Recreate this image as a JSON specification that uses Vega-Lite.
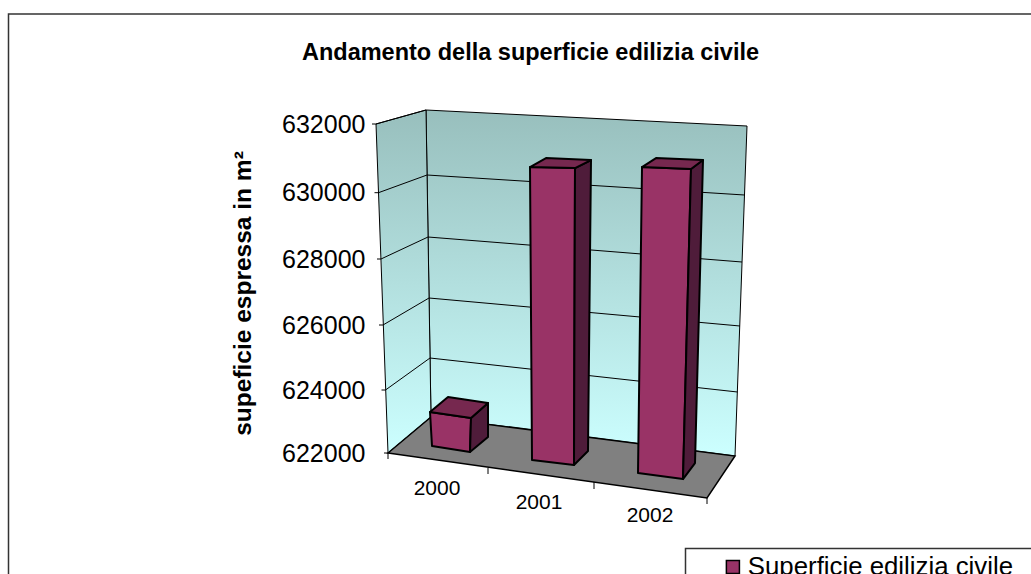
{
"$schema":"https://vega.github.io/schema/vega-lite/v6.json",
"width":1031,"height":574,"padding":0,"autosize":{"type":"none"},"background":"white",
"title":{"text":"Andamento della superficie edilizia civile","anchor":"middle","frame":"group","dx":15,"dy":76,"offset":0,"baseline":"middle","font":"Liberation Sans","fontSize":23.5,"fontWeight":"bold","color":"#000"},
"config":{"view":{"stroke":null},"font":"Liberation Sans"},
"datasets":{
"barre":[
{"anno":2000,"superficie":623200,"base":622220,"serie":"Superficie edilizia civile"},
{"anno":2001,"superficie":630730,"base":621780,"serie":"Superficie edilizia civile"},
{"anno":2002,"superficie":630720,"base":621370,"serie":"Superficie edilizia civile"}],
"griglia":[{"quota":622000},{"quota":624000},{"quota":626000},{"quota":628000},{"quota":630000},{"quota":632000}],
"cornice":[{"parte":"scena"}]
},
"layer":[
{"data":{"name":"cornice"},
"mark":{"type":"point","filled":true,"opacity":1,"size":4,"stroke":"#000","strokeWidth":1,"shape":"M-25,-343L296,-327L284,3L-20,-36Z","fill":{"gradient":"linear","x1":0,"y1":0,"x2":0,"y2":1,"stops":[{"offset":0,"color":"#98bfbd"},{"offset":1,"color":"#ccffff"}]}},
"encoding":{"x":{"datum":2000,"type":"quantitative","axis":null,"scale":{"domain":[2000,2001,2002],"range":[451,553,664],"zero":false,"nice":false,"padding":0}},"y":{"datum":622000,"type":"quantitative"}}},
{"data":{"name":"cornice"},
"mark":{"type":"point","filled":true,"opacity":1,"size":4,"stroke":"#000","strokeWidth":1,"shape":"M-75,-329L-25,-343L-20,-36L-63,0Z","fill":{"gradient":"linear","x1":0,"y1":0,"x2":0,"y2":1,"stops":[{"offset":0,"color":"#98bfbd"},{"offset":1,"color":"#ccffff"}]}},
"encoding":{"x":{"datum":2000,"type":"quantitative"},"y":{"datum":622000,"type":"quantitative"}}},
{"data":{"name":"cornice"},
"mark":{"type":"point","filled":true,"opacity":1,"size":4,"stroke":"#000","strokeWidth":1.5,"fill":"#808080","shape":"M-63,0L-20,-36L284,3L256,45Z"},
"encoding":{"x":{"datum":2000,"type":"quantitative"},"y":{"datum":622000,"type":"quantitative"}}},
{"data":{"name":"cornice"},
"mark":{"type":"point","filled":false,"opacity":1,"size":4,"stroke":"#000","strokeWidth":1,"shape":"M-63,0V6M37,15V21M143,29V36M256,45V51"},
"encoding":{"x":{"datum":2000,"type":"quantitative"},"y":{"datum":622000,"type":"quantitative"}}},
{"data":{"name":"griglia"},
"mark":{"type":"point","filled":false,"opacity":1,"size":4,"stroke":"#000","strokeWidth":1},
"encoding":{
"x":{"datum":2000,"type":"quantitative"},
"y":{"field":"quota","type":"quantitative","scale":{"domain":[622000,624000,626000,628000,630000,632000],"range":[453,390,325,259,192.7,124],"zero":false,"nice":false},
"axis":{"values":[622000,624000,626000,628000,630000,632000],"format":"d","grid":false,"domain":false,"ticks":false,"labelPadding":0,"offset":-365,"labelFontSize":25,"labelColor":"#000","labelFont":"Liberation Sans","title":"supeficie espressa in m²","titleFont":"Liberation Sans","titleFontSize":24.5,"titleFontWeight":"bold","titleColor":"#000","titleX":-110,"titleY":293,"encode":{"labels":{"update":{"dx":{"signal":"(632000-datum.value)/10000*11"}}}}}},
"shape":{"field":"quota","type":"ordinal","legend":null,"scale":{"domain":[622000,624000,626000,628000,630000,632000],"range":["M-67,0L-63,0","M-69.5,0L-65.5,0L-21,-32L286.5,2","M-72,0L-68,0L-22,-27L289,1","M-74,0L-70,0L-23,-22L291,3","M-76.5,0L-72.5,0L-24,-17.7L293.5,2.3","M-79,0L-75,0L-25,-14"]}}
}},
{"data":{"name":"barre"},
"mark":{"type":"bar","width":36,"orient":"vertical"},
"encoding":{
"x":{"field":"anno","type":"quantitative"},
"y":{"field":"superficie","type":"quantitative"},
"y2":{"field":"base"},
"color":{"field":"serie","type":"nominal","scale":{"range":["#993366"]},
"legend":{"orient":"none","legendX":720,"legendY":554,"title":null,"padding":0,"symbolType":"square","symbolSize":170,"symbolStrokeColor":"#000","symbolStrokeWidth":1.5,"labelFontSize":25.8,"labelFont":"Liberation Sans","labelColor":"#000","labelOffset":2,"labelLimit":400,"strokeColor":null}}
}},
{"data":{"name":"barre"},
"mark":{"type":"point","filled":true,"opacity":1,"size":4,"fill":"#993366","stroke":"#000","strokeWidth":2,"strokeJoin":"round"},
"encoding":{"x":{"field":"anno","type":"quantitative"},"y":{"field":"superficie","type":"quantitative"},
"shape":{"field":"anno","type":"ordinal","legend":null,"scale":{"domain":[2000,2001,2002],"range":["M-21,-3.2L20,2.8L19,36.8L-19,30.8Z","M-23,-0.6L22,0.4L21,297.4L-21,292.4Z","M-22,-0.9L27,1.1L19,311.1L-26,305.1Z"]}}}},
{"data":{"name":"barre"},
"mark":{"type":"point","filled":true,"opacity":1,"size":4,"fill":"#4f1c3a","stroke":"#000","strokeWidth":2,"strokeJoin":"round"},
"encoding":{"x":{"field":"anno","type":"quantitative"},"y":{"field":"superficie","type":"quantitative"},
"shape":{"field":"anno","type":"ordinal","legend":null,"scale":{"domain":[2000,2001,2002],"range":["M20,2.8L37,-12.2L37,21.8L19,36.8Z","M22,0.4L38,-7.6L35,283.4L21,297.4Z","M27,1.1L39,-7.9L31,295.1L19,311.1Z"]}}}},
{"data":{"name":"barre"},
"mark":{"type":"point","filled":true,"opacity":1,"size":4,"fill":"#76284f","stroke":"#000","strokeWidth":2,"strokeJoin":"round"},
"encoding":{"x":{"field":"anno","type":"quantitative"},"y":{"field":"superficie","type":"quantitative"},
"shape":{"field":"anno","type":"ordinal","legend":null,"scale":{"domain":[2000,2001,2002],"range":["M-21,-3.2L-3,-18.2L37,-12.2L20,2.8Z","M-23,-0.6L-7,-9.6L38,-7.6L22,0.4Z","M-22,-0.9L-8,-9.9L39,-7.9L27,1.1Z"]}}}},
{"data":{"name":"barre"},
"mark":{"type":"text","dx":-14,"dy":43,"fontSize":21,"font":"Liberation Sans","color":"#000","baseline":"middle"},
"encoding":{"x":{"field":"anno","type":"quantitative"},"y":{"field":"base","type":"quantitative"},"text":{"field":"anno","type":"nominal"}}},
{"data":{"name":"cornice"},
"mark":{"type":"point","filled":false,"opacity":1,"size":4,"stroke":"#333","strokeWidth":1.5,"shape":"M-442.5,130V-439H600M234.5,130V95.5H600"},
"encoding":{"x":{"datum":2000,"type":"quantitative"},"y":{"datum":622000,"type":"quantitative"}}}
],
"resolve":{"scale":{"shape":"independent"}}
}
